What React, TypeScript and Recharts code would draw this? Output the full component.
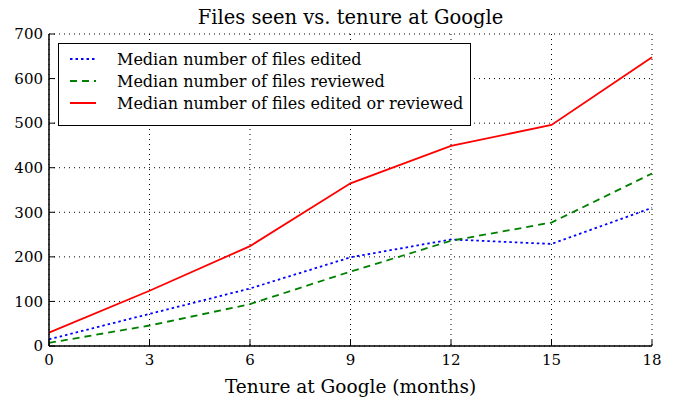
import { LineChart, Line, XAxis, YAxis, CartesianGrid } from "recharts";

const months = [0, 3, 6, 9, 12, 15, 18];
const edited = [15, 72, 129, 199, 239, 229, 310];
const reviewed = [7, 46, 94, 167, 236, 277, 387];
const editedOrReviewed = [30, 124, 224, 365, 449, 496, 648];

const xTicks = [0, 3, 6, 9, 12, 15, 18];
const yTicks = [0, 100, 200, 300, 400, 500, 600, 700];

const SERIES = [
  { key: "edited", name: "Median number of files edited", color: "#0000ff", dash: "2.5 3" },
  { key: "reviewed", name: "Median number of files reviewed", color: "#008000", dash: "7 5" },
  { key: "both", name: "Median number of files edited or reviewed", color: "#ff0000", dash: undefined },
];

const data = months.map((m, i) => ({
  month: m,
  edited: edited[i],
  reviewed: reviewed[i],
  both: editedOrReviewed[i],
}));

const FONT = "'DejaVu Serif', serif";

function LegendBox() {
  return (
    <div style={{ position: "absolute", left: 58, top: 43, width: 413, height: 83, boxSizing: "border-box", background: "#fff", border: "1.5px solid #000", padding: "4px 0 0 10px", fontFamily: FONT, fontSize: 16, color: "#000" }}>
      {SERIES.map((s) => (
        <div key={s.key} style={{ display: "flex", alignItems: "center", height: 22 }}>
          <svg width={28} height={10} style={{ marginRight: 20 }}>
            <line x1={1} y1={5} x2={27} y2={5} stroke={s.color} strokeWidth={2} strokeDasharray={s.dash} />
          </svg>
          <span>{s.name}</span>
        </div>
      ))}
    </div>
  );
}

export default function App() {
  return (
    <div style={{ position: "absolute", left: 0, top: 0, width: 675, height: 401, background: "#fff" }}>
      <div style={{ position: "absolute", left: 49, width: 603, top: 6, textAlign: "center", fontFamily: FONT, fontSize: 19.5, lineHeight: "24px", color: "#000" }}>
        Files seen vs. tenure at Google
      </div>
      <LineChart width={675} height={401} data={data} margin={{ top: 34, right: 23, bottom: 25, left: 9 }}>
        <CartesianGrid stroke="#000" strokeDasharray="1 4" strokeWidth={1} />
        <XAxis
          dataKey="month"
          type="number"
          domain={[0, 18]}
          ticks={xTicks}
          height={30}
          axisLine={{ stroke: "#000", strokeWidth: 1.5 }}
          tickLine={{ stroke: "#000" }}
          tickSize={-6}
          tickMargin={14}
          tick={{ fill: "#000", fontFamily: FONT, fontSize: 15 }}
          label={{ value: "Tenure at Google (months)", position: "insideBottom", offset: -17, fill: "#000", fontFamily: FONT, fontSize: 18.5 }}
        />
        <XAxis
          xAxisId="top"
          orientation="top"
          type="number"
          domain={[0, 18]}
          ticks={xTicks}
          height={0}
          axisLine={{ stroke: "#000", strokeWidth: 1.5 }}
          tickLine={{ stroke: "#000" }}
          tickSize={-6}
          tick={false}
        />
        <YAxis
          type="number"
          domain={[0, 700]}
          ticks={yTicks}
          width={40}
          axisLine={{ stroke: "#000", strokeWidth: 1.5 }}
          tickLine={{ stroke: "#000" }}
          tickSize={-6}
          tickMargin={12}
          tick={{ fill: "#000", fontFamily: FONT, fontSize: 15 }}
        />
        <YAxis
          yAxisId="right"
          orientation="right"
          type="number"
          domain={[0, 700]}
          ticks={yTicks}
          width={0}
          axisLine={{ stroke: "#000", strokeWidth: 1.5 }}
          tickLine={{ stroke: "#000" }}
          tickSize={-6}
          tick={false}
        />
        {SERIES.map((s) => (
          <Line
            key={s.key}
            dataKey={s.key}
            name={s.name}
            type="linear"
            stroke={s.color}
            strokeWidth={1.8}
            strokeDasharray={s.dash}
            dot={false}
            activeDot={false}
            isAnimationActive={false}
          />
        ))}
      </LineChart>
      <LegendBox />
    </div>
  );
}
